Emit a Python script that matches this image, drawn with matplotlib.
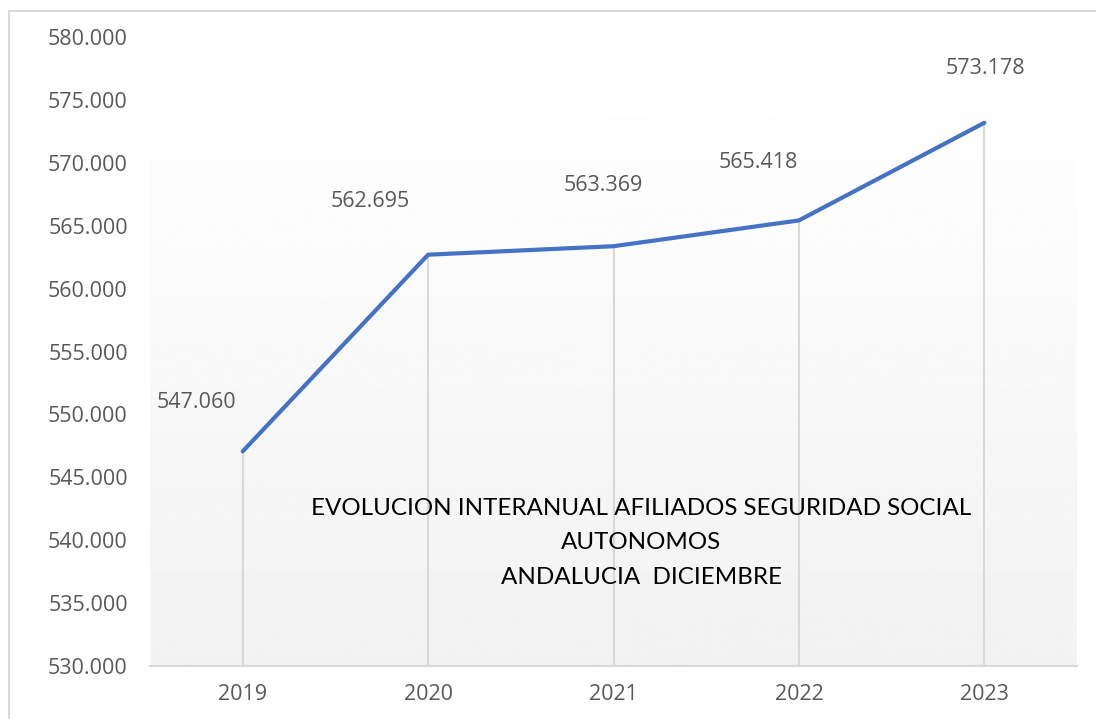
import numpy as np
import matplotlib.pyplot as plt
from matplotlib.patches import Rectangle

# afiliados autonomos, Andalucia, diciembre de cada año
years = ["2019", "2020", "2021", "2022", "2023"]
afiliados = [547060, 562695, 563369, 565418, 573178]
y_ticks = list(range(530000, 580001, 5000))

# desplazamiento de cada etiqueta de valor (puntos)
label_offsets = [(-33, 35), (-42, 38), (-7, 44), (-29, 42), (1, 39)]

FONT = ["Open Sans", "DejaVu Sans"]
TITLE_FONT = ["Lato", "DejaVu Sans"]
GREY_TXT = "#595959"


def miles(v):
    return f"{v:,.0f}".replace(",", ".")


fig = plt.figure(figsize=(10.96, 7.19), dpi=100)
fig.patch.set_facecolor("white")

# marco del grafico
fig.patches.append(Rectangle((9 / 1096, -0.1), 1.2, 1.1 - 11 / 719,
                             transform=fig.transFigure, fill=False,
                             edgecolor="#d9d9d9", linewidth=1.5))

ax = fig.add_axes([150 / 1096, 1 - 666 / 719, 927 / 1096, 629 / 719])
ax.set_facecolor("none")
x = np.arange(len(years))

ax.set_xlim(-0.5, len(years) - 0.5)
ax.set_ylim(530000, 580000)

# fondo degradado del area de trazado
grad = np.linspace(0.949, 0.996, 256).reshape(-1, 1)
ax.imshow(grad, cmap="gray", vmin=0, vmax=1, aspect="auto", origin="lower",
          extent=[-0.5, len(years) - 0.5, 530000, 573600], zorder=0)

# lineas de caida
ax.vlines(x, 530000, afiliados, colors="#d9d9d9", linewidth=1.5, zorder=1)

ax.plot(x, afiliados, color="#4472C4", linewidth=3, solid_capstyle="round", zorder=3)

for xi, v, off in zip(x, afiliados, label_offsets):
    ax.annotate(miles(v), (xi, v), xytext=off, textcoords="offset points",
                ha="center", va="center", fontsize=15.5, color=GREY_TXT, family=FONT)

ax.set_xticks(x)
ax.set_xticklabels(years)
ax.set_yticks(y_ticks)
ax.set_yticklabels([miles(t) for t in y_ticks])
ax.tick_params(length=0, labelsize=15.5, colors=GREY_TXT)
ax.tick_params(axis="x", pad=13)
ax.tick_params(axis="y", pad=16)
for lab in ax.get_xticklabels() + ax.get_yticklabels():
    lab.set_family(FONT)

for s in ["top", "right", "left"]:
    ax.spines[s].set_visible(False)
ax.spines["bottom"].set_color("#d9d9d9")
ax.spines["bottom"].set_linewidth(1.5)
ax.spines["bottom"].set_zorder(2)

ax.text(2.15, 539780,
        "EVOLUCION INTERANUAL AFILIADOS SEGURIDAD SOCIAL\nAUTONOMOS\nANDALUCIA  DICIEMBRE",
        ha="center", va="center", fontsize=17.4, color="black", family=TITLE_FONT,
        linespacing=1.8, zorder=4)

fig.savefig("out.png", dpi=100)
